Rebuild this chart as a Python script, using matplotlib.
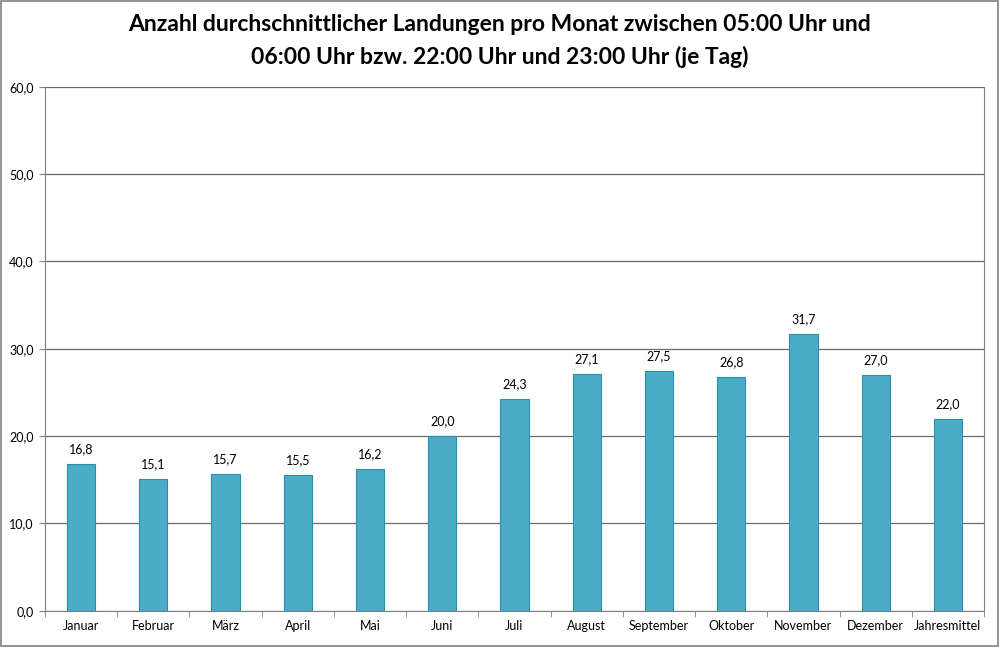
import matplotlib
matplotlib.use("Agg")
import matplotlib.pyplot as plt
import numpy as np

# data
monate = ["Januar", "Februar", "März", "April", "Mai", "Juni", "Juli", "August",
          "September", "Oktober", "November", "Dezember", "Jahresmittel"]
landungen = [16.8, 15.1, 15.7, 15.5, 16.2, 20.0, 24.3, 27.1, 27.5, 26.8, 31.7, 27.0, 22.0]
y_ticks = [0, 10, 20, 30, 40, 50, 60]

plt.rcParams["font.family"] = ["Lato", "DejaVu Sans"]

fig = plt.figure(figsize=(10, 6.47), dpi=100)
ax = fig.add_axes([0.045, 0.056, 0.939, 0.81])

# frame around the whole figure
fig.patches.append(plt.Rectangle((0.001, 0.002), 0.997, 0.996, transform=fig.transFigure,
                                 fill=False, edgecolor="#808080", linewidth=1.2))

pos = np.arange(len(monate))
ax.bar(pos, landungen, width=0.39, color="#4BACC6", edgecolor="#2A8DAA", linewidth=0.8, zorder=3)

for x, v in zip(pos, landungen):
    ax.text(x, v + 1.0, ("%.1f" % v).replace(".", ","), ha="center", va="bottom", fontsize=9)

ax.set_xlim(-0.5, len(monate) - 0.5)
ax.set_ylim(0, 60)
ax.set_yticks(y_ticks)
ax.set_yticklabels([("%.1f" % t).replace(".", ",") for t in y_ticks], fontsize=9)
ax.yaxis.grid(True, color="#6a6a6a", linewidth=0.9, zorder=0)

# category labels, tick marks between categories
ax.set_xticks(pos)
ax.set_xticklabels(monate, fontsize=9)
ax.tick_params(axis="x", length=0, pad=7)
ax.set_xticks(np.arange(-0.5, len(monate)), minor=True)
ax.tick_params(axis="x", which="minor", length=4, color="#808080")
ax.tick_params(axis="y", length=4, color="#808080", pad=4)

for s in ["left", "bottom", "right"]:
    ax.spines[s].set_color("#808080")
ax.spines["top"].set_visible(False)

fig.text(0.5, 0.962, "Anzahl durchschnittlicher Landungen pro Monat zwischen 05:00 Uhr und",
         ha="center", va="center", fontsize=16.5, fontweight="bold")
fig.text(0.5, 0.912, "06:00 Uhr bzw. 22:00 Uhr und 23:00 Uhr (je Tag)",
         ha="center", va="center", fontsize=16.5, fontweight="bold")

fig.savefig("out.png", dpi=100)
